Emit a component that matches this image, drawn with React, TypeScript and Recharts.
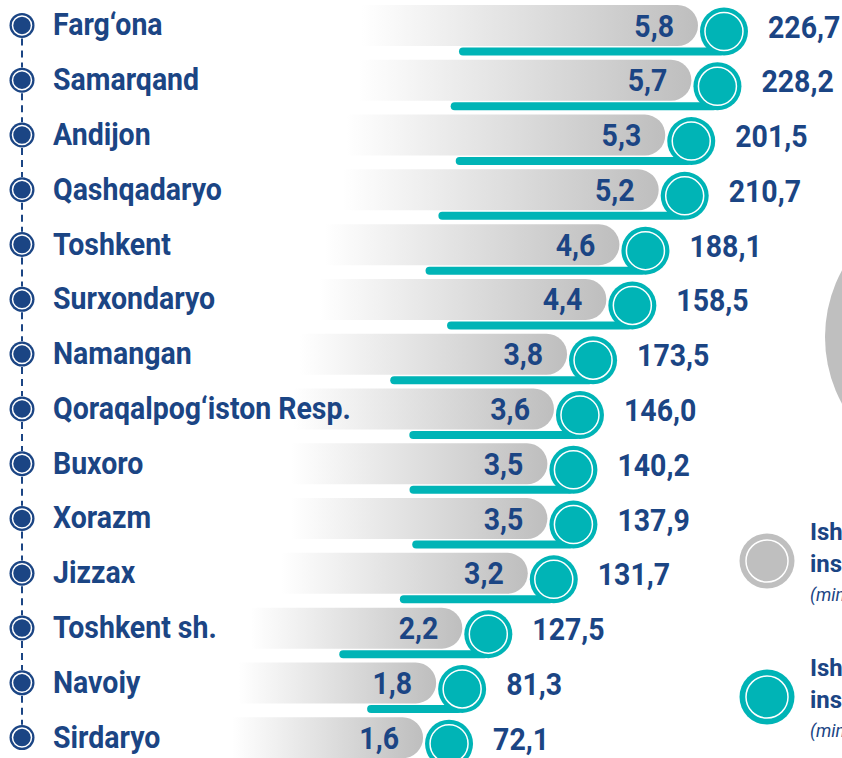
import React from 'react';
import { BarChart, Bar, XAxis, YAxis, Legend } from 'recharts';

const regions = [
  'Farg‘ona', 'Samarqand', 'Andijon', 'Qashqadaryo', 'Toshkent', 'Surxondaryo', 'Namangan',
  'Qoraqalpog‘iston Resp.', 'Buxoro', 'Xorazm', 'Jizzax', 'Toshkent sh.', 'Navoiy', 'Sirdaryo',
];
const workers = [5.8, 5.7, 5.3, 5.2, 4.6, 4.4, 3.8, 3.6, 3.5, 3.5, 3.2, 2.2, 1.8, 1.6];
const investments = [226.7, 228.2, 201.5, 210.7, 188.1, 158.5, 173.5, 146.0, 140.2, 137.9, 131.7, 127.5, 81.3, 72.1];

const legendItems = [
  { color: '#BFBFBF', title: 'Ishga joylashtirilgan', sub: 'insonlar soni', unit: '(ming kishi)' },
  { color: '#00B4B6', title: 'Ish bilan band', sub: 'insonlar soni', unit: '(ming kishi)' },
];

const BAR_BASE = -3.9;
const X_MAX = 8.0;
const INV_PER_UNIT = 56; // investment units per one worker unit on the teal line

const NAVY = '#1B4584';
const TEAL = '#00B4B6';
const FONT = 'Roboto, sans-serif';
const SQUEEZE = 0.89;

const data = regions.map((name, i) => ({ name, workers: workers[i], inv: investments[i] }));

const fmt = (v: number) => v.toFixed(1).replace('.', ',');

// narrow text: Roboto squeezed horizontally to look like a condensed face
const NarrowText = ({ x, y, size = 32, anchor = 'start', italic = false, bold = true, squeeze = SQUEEZE, children }: any) => (
  <text
    transform={`translate(${x},${y}) scale(${squeeze},1)`}
    textAnchor={anchor}
    fill={NAVY}
    fontFamily={FONT}
    fontWeight={bold ? 700 : 400}
    fontStyle={italic ? 'italic' : 'normal'}
    fontSize={size}
  >
    {children}
  </text>
);

const RegionTick = (props: any) => {
  const { x, y, payload, index } = props;
  const mx = x - 31;
  return (
    <g>
      {index < regions.length - 1 && (
        <line x1={mx} x2={mx} y1={y + 13} y2={y + 42} stroke={NAVY} strokeWidth={2} strokeDasharray="7 5" />
      )}
      <circle cx={mx} cy={y} r={12.5} fill={NAVY} />
      <circle cx={mx} cy={y} r={9.5} fill="none" stroke="#fff" strokeWidth={1.5} />
      <NarrowText x={x} y={y + 10}>{payload.value}</NarrowText>
    </g>
  );
};

const RowShape = (props: any) => {
  const { x, y, width, height } = props;
  const p = props.payload ?? props;
  const cy = y + height / 2;
  const end = x + width;
  const r = height / 2;
  const pxPerUnit = width / (p.workers - BAR_BASE);
  const circX = end + 26;
  const circY = cy + 6;
  const lineLen = (p.inv / INV_PER_UNIT) * pxPerUnit;
  const barPath = `M${x},${y} H${end - r} A${r},${r} 0 0 1 ${end - r},${y + height} H${x} Z`;
  return (
    <g>
      <path d={barPath} fill="url(#greyFade)" />
      <rect x={circX - lineLen} y={circY + 16} width={lineLen} height={8} rx={4} fill={TEAL} />
      <circle cx={circX} cy={circY} r={24} fill={TEAL} />
      <circle cx={circX} cy={circY} r={19} fill="none" stroke="#fff" strokeWidth={1.5} />
      <NarrowText x={end - 24} y={cy + 11} anchor="end">{fmt(p.workers)}</NarrowText>
      <NarrowText x={circX + 44} y={cy + 12}>{fmt(p.inv)}</NarrowText>
    </g>
  );
};

const LegendBox = () => (
  <svg width={842} height={760} style={{ position: 'absolute', left: 0, top: 0, overflow: 'visible' }}>
    {legendItems.map((it, i) => {
      const cy = 563 + i * 136;
      return (
        <g key={it.color}>
          <circle cx={767} cy={cy} r={27.5} fill={it.color} />
          <circle cx={767} cy={cy} r={21} fill="none" stroke="#fff" strokeWidth={1.5} />
          <NarrowText x={810} y={cy - 21} size={24} squeeze={1}>{it.title}</NarrowText>
          <NarrowText x={810} y={cy + 11} size={24} squeeze={1}>{it.sub}</NarrowText>
          <NarrowText x={810} y={cy + 40} size={18} italic bold={false} squeeze={1}>{it.unit}</NarrowText>
        </g>
      );
    })}
  </svg>
);

export default function App() {
  return (
    <div style={{ position: 'absolute', left: 0, top: 0, width: 842, height: 758, overflow: 'hidden', background: '#fff' }}>
      <div
        style={{
          position: 'absolute', left: 825, top: 197, width: 280, height: 280,
          borderRadius: '50%', background: '#BFBFBF',
        }}
      />
      <div style={{ position: 'absolute', left: 0, top: -2 }}>
        <BarChart width={842} height={800} data={data} layout="vertical" margin={{ top: 0, right: 0, bottom: 33, left: 0 }}>
          <defs>
            <linearGradient id="greyFade" x1="0" y1="0" x2="1" y2="0">
              <stop offset="0" stopColor="#BEBEBE" stopOpacity={0} />
              <stop offset="0.47" stopColor="#BEBEBE" stopOpacity={0} />
              <stop offset="1" stopColor="#BEBEBE" stopOpacity={1} />
            </linearGradient>
          </defs>
          <XAxis type="number" hide domain={[BAR_BASE, X_MAX]} />
          <YAxis
            type="category"
            dataKey="name"
            width={63}
            axisLine={false}
            tickLine={false}
            tickSize={0}
            tickMargin={10}
            interval={0}
            tick={<RegionTick />}
          />
          <Legend layout="horizontal" verticalAlign="middle" align="center" content={<LegendBox />}
            wrapperStyle={{ left: 0, top: 0, width: 842, height: 760 }} />
          <Bar
            dataKey={(d: any) => [BAR_BASE, d.workers]}
            barSize={41}
            shape={<RowShape />}
            isAnimationActive={false}
          />
        </BarChart>
      </div>
    </div>
  );
}
